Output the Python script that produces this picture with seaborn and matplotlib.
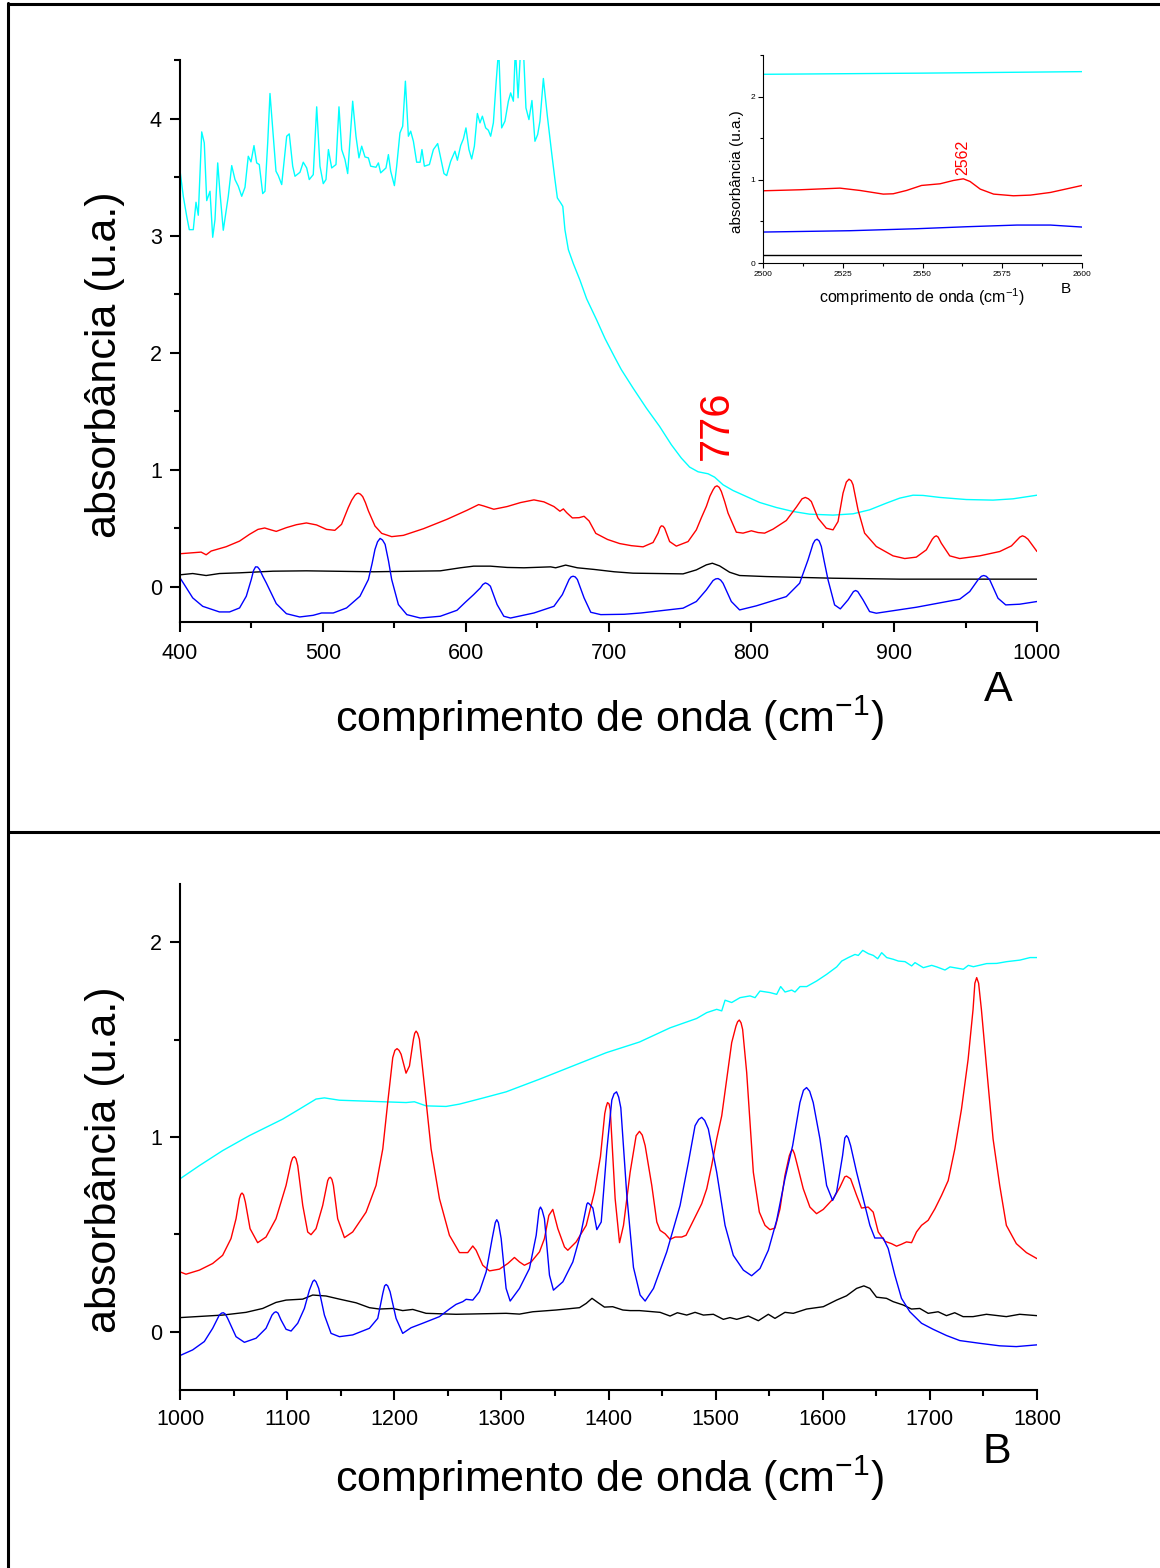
import numpy as np
import pandas as pd
import matplotlib
matplotlib.use("Agg")
import matplotlib.pyplot as plt
from matplotlib.ticker import MultipleLocator
from matplotlib.lines import Line2D
import seaborn as sns

# ---------------- Painel A : 400-1000 cm-1 ----------------
a_ciano_x = [400, 402.3, 404.7, 406.5, 409.3, 411.2, 412.8, 415.2, 417.0, 418.7, 421.0, 422.9, 424.5,
             426.4, 428.0, 430.3, 433.8, 436.2, 438.5, 440.8, 443.2, 445.5, 447.8, 449.7, 451.8, 453.7,
             455.5, 457.9, 459.5, 461.4, 463.0, 465.3, 467.2, 468.8, 471.2, 474.7, 476.5, 478.9, 480.5,
             484.0, 486.3, 488.7, 490.5, 493.3, 495.7, 498.0, 500.3, 502.2, 503.9, 506.2, 509.2, 511.3,
             513.2, 515.5, 517.4, 520.9, 523.2, 525.3, 527.2, 529.5, 531.9, 533.5, 537.2, 538.9, 540.5,
             544.2, 545.9, 547.5, 550.1, 551.7, 554.0, 555.9, 557.8, 559.9, 561.5, 563.4, 565.7, 568.1,
             569.4, 571.1, 574.6, 577.4, 580.4, 583.2, 584.8, 586.7, 589.5, 592.5, 594.2, 596.5, 598.4,
             600.2, 602.3, 604.2, 606.1, 608.2, 610.0, 611.7, 614.0, 615.9, 617.5, 619.4, 621.3, 623.1,
             625.2, 627.5, 629.9, 631.5, 633.4, 634.8, 636.7, 638.5, 640.4, 642.2, 644.3, 646.4, 648.5,
             650.4, 652.0, 654.4, 657.2, 660.2, 662.5, 664.2, 666.5, 668.0, 669.5, 671.9, 675.4, 680.0,
             684.7, 691.7, 697.6, 704.6, 709.0, 717.2, 726.5, 735.8, 744.0, 751.0, 756.8, 762.7, 769.7,
             774.3, 780.2, 787.2, 796.5, 805.8, 817.5, 829.2, 840.8, 857.2, 871.2, 882.8, 894.5, 903.9,
             913.2, 920.2, 931.9, 950.5, 969.2, 983.2, 1000]
a_ciano_y = [3.556, 3.336, 3.165, 3.051, 3.051, 3.285, 3.174, 3.886, 3.792, 3.299, 3.379, 2.986, 3.137,
             3.621, 3.365, 3.046, 3.336, 3.598, 3.479, 3.422, 3.336, 3.413, 3.678, 3.630, 3.769, 3.621,
             3.607, 3.359, 3.379, 3.792, 4.214, 3.849, 3.550, 3.513, 3.436, 3.849, 3.869, 3.593, 3.507,
             3.541, 3.627, 3.578, 3.479, 3.521, 4.100, 3.593, 3.444, 3.479, 3.735, 3.578, 3.607, 4.100,
             3.735, 3.650, 3.530, 4.148, 3.849, 3.664, 3.764, 3.672, 3.664, 3.593, 3.584, 3.621, 3.536,
             3.578, 3.692, 3.550, 3.427, 3.593, 3.878, 3.934, 4.319, 3.849, 3.892, 3.806, 3.627, 3.627,
             3.735, 3.593, 3.607, 3.735, 3.786, 3.621, 3.530, 3.513, 3.635, 3.721, 3.644, 3.769, 3.826,
             3.920, 3.735, 3.655, 3.764, 4.043, 3.963, 4.020, 3.920, 3.900, 3.849, 3.963, 4.305, 4.600,
             3.920, 3.977, 4.148, 4.219, 4.148, 4.600, 4.177, 4.600, 4.600, 4.091, 3.991, 4.154, 3.806,
             3.863, 3.977, 4.342, 4.020, 3.707, 3.479, 3.322, 3.280, 3.250, 3.050, 2.880, 2.760, 2.620,
             2.460, 2.280, 2.120, 1.955, 1.855, 1.698, 1.527, 1.370, 1.214, 1.100, 1.023, 0.983, 0.966,
             0.937, 0.872, 0.823, 0.772, 0.721, 0.678, 0.644, 0.621, 0.613, 0.624, 0.658, 0.715, 0.758,
             0.783, 0.781, 0.764, 0.746, 0.741, 0.752, 0.783]

a_vermelho_x = [400, 414.8, 418.3, 421.8, 432.3, 441.7, 448.7, 454.6, 459.3, 463.9, 467.4, 474.5, 481.5,
                488.5, 495.6, 502.6, 508.4, 513.1, 517.8, 520.2, 522.5, 523.7, 524.8, 526.3, 527.9, 529.8,
                531.9, 536.5, 541.2, 548.2, 556.4, 570.5, 586.9, 600.9, 609.1, 612.6, 619.7, 629.0, 638.4,
                647.8, 654.8, 661.8, 666.0, 668.4, 670.7, 674.7, 679.4, 682.9, 686.4, 691.1, 699.3, 707.8,
                716.0, 724.2, 731.2, 734.7, 736.0, 737.0, 738.2, 739.3, 742.8, 747.5, 755.7, 761.5, 765.0,
                768.5, 771.0, 773.2, 774.6, 776.0, 777.5, 779.0, 781.3, 783.7, 789.5, 794.2, 800.0, 804.7,
                809.3, 815.2, 824.5, 831.5, 835.5, 837.8, 840.0, 842.0, 846.7, 852.5, 857.2, 860.7, 864.2,
                866.5, 868.4, 870.0, 871.2, 874.7, 879.3, 887.5, 899.2, 907.4, 915.5, 922.5, 926.7, 928.2,
                929.5, 930.8, 933.0, 938.9, 945.9, 959.9, 973.9, 982.1, 988.0, 989.8, 991.5, 993.7, 1000]
a_vermelho_y = [0.283, 0.297, 0.274, 0.306, 0.343, 0.391, 0.449, 0.491, 0.503, 0.486, 0.474, 0.506, 0.531,
                0.546, 0.529, 0.491, 0.483, 0.534, 0.677, 0.740, 0.783, 0.796, 0.800, 0.792, 0.771, 0.720,
                0.649, 0.520, 0.457, 0.429, 0.440, 0.497, 0.577, 0.654, 0.703, 0.691, 0.663, 0.686, 0.720,
                0.743, 0.726, 0.686, 0.646, 0.666, 0.634, 0.589, 0.591, 0.603, 0.563, 0.457, 0.405, 0.370,
                0.352, 0.342, 0.379, 0.459, 0.505, 0.521, 0.518, 0.501, 0.387, 0.348, 0.387, 0.487, 0.590,
                0.687, 0.775, 0.829, 0.855, 0.863, 0.850, 0.815, 0.730, 0.630, 0.467, 0.459, 0.479, 0.464,
                0.459, 0.493, 0.567, 0.681, 0.752, 0.764, 0.752, 0.729, 0.587, 0.501, 0.487, 0.558, 0.801,
                0.895, 0.920, 0.905, 0.872, 0.658, 0.459, 0.345, 0.265, 0.242, 0.254, 0.316, 0.407, 0.428,
                0.436, 0.425, 0.373, 0.265, 0.242, 0.265, 0.302, 0.350, 0.425, 0.436, 0.428, 0.407, 0.302]

a_preto_x = [400, 408.9, 418.3, 427.6, 441.7, 465.1, 488.5, 535.4, 582.2, 596.3, 605.6, 617.3, 629.0,
             640.8, 659.5, 663.0, 670.0, 678.2, 689.9, 704.0, 717.2, 752.2, 761.5, 768.5, 772.7, 777.8,
             784.8, 791.8, 810.5, 857.2, 903.9, 1000]
a_preto_y = [0.103, 0.114, 0.097, 0.114, 0.120, 0.134, 0.137, 0.129, 0.137, 0.163, 0.177, 0.177, 0.166,
             0.163, 0.171, 0.163, 0.186, 0.163, 0.149, 0.129, 0.117, 0.111, 0.145, 0.188, 0.202, 0.179,
             0.125, 0.097, 0.088, 0.074, 0.066, 0.066]

a_azul_x = [400, 403.0, 408.9, 415.9, 427.6, 434.7, 441.7, 446.4, 449.9, 451.5, 452.9, 454.3, 455.7, 458.0,
            460.4, 467.4, 474.5, 483.8, 493.2, 499.1, 507.3, 516.6, 526.0, 531.9, 534.5, 536.5, 538.3,
            540.1, 541.8, 543.6, 546.0, 548.2, 552.9, 558.8, 568.2, 582.2, 593.9, 599.8, 605.6, 610.3,
            612.0, 613.8, 615.5, 617.3, 622.0, 626.7, 631.4, 647.8, 661.8, 667.7, 672.4, 673.8, 675.2,
            676.7, 678.2, 682.9, 687.6, 694.6, 711.0, 722.7, 752.2, 761.5, 768.5, 773.2, 775.0, 776.7,
            778.5, 780.2, 786.0, 791.8, 803.5, 824.5, 833.8, 839.7, 843.2, 844.6, 846.0, 847.5, 849.0,
            851.0, 853.7, 858.3, 862.3, 867.7, 871.5, 873.0, 874.5, 878.2, 882.8, 887.5, 915.5, 945.9,
            952.9, 958.7, 961.0, 962.7, 964.5, 966.9, 972.7, 978.1, 987.9, 1000]
a_azul_y = [0.077, 0.020, -0.094, -0.166, -0.214, -0.214, -0.180, -0.080, 0.063, 0.140, 0.171, 0.170,
            0.149, 0.090, 0.034, -0.143, -0.229, -0.257, -0.243, -0.223, -0.223, -0.180, -0.080, 0.063,
            0.200, 0.320, 0.385, 0.414, 0.400, 0.363, 0.220, 0.063, -0.151, -0.237, -0.266, -0.251,
            -0.200, -0.131, -0.066, -0.009, 0.020, 0.034, 0.025, 0.006, -0.151, -0.251, -0.266, -0.223,
            -0.166, -0.066, 0.063, 0.085, 0.091, 0.085, 0.063, -0.094, -0.217, -0.237, -0.234, -0.223,
            -0.182, -0.125, -0.026, 0.054, 0.068, 0.071, 0.058, 0.031, -0.125, -0.197, -0.162, -0.083,
            0.031, 0.231, 0.368, 0.398, 0.407, 0.392, 0.345, 0.220, 0.060, -0.154, -0.188, -0.111,
            -0.040, -0.031, -0.040, -0.111, -0.211, -0.225, -0.174, -0.105, -0.040, 0.060, 0.090,
            0.097, 0.090, 0.060, -0.097, -0.154, -0.148, -0.125]

# ---------------- Detalhe : 2500-2600 cm-1 ----------------
d_ciano_x = [2500, 2550, 2600]
d_ciano_y = [2.268, 2.282, 2.300]
d_vermelho_x = [2500, 2511.5, 2524.1, 2530.4, 2537.7, 2540.8, 2545.0, 2549.7, 2555.5, 2559.7, 2562.8,
                2564.9, 2568.1, 2572.3, 2578.5, 2583.8, 2590.1, 2595.3, 2600]
d_vermelho_y = [0.868, 0.880, 0.900, 0.872, 0.828, 0.832, 0.872, 0.932, 0.952, 0.992, 1.012, 0.980,
                0.888, 0.828, 0.808, 0.816, 0.848, 0.892, 0.932]
d_azul_x = [2500, 2527.2, 2548.2, 2563.9, 2579.6, 2590.1, 2600]
d_azul_y = [0.372, 0.388, 0.412, 0.436, 0.456, 0.456, 0.432]
d_preto_x = [2500, 2600]
d_preto_y = [0.092, 0.092]

# ---------------- Painel B : 1000-1800 cm-1 ----------------
b_ciano_x = [1000, 1018.1, 1039.8, 1064.7, 1095.9, 1111.4, 1127.0, 1134.8, 1148.8, 1179.9, 1211.0, 1218.8,
             1229.7, 1248.4, 1260.9, 1282.6, 1304.4, 1335.6, 1366.7, 1397.8, 1428.9, 1457.5, 1482.3,
             1491.7, 1501.0, 1505.7, 1508.8, 1515.0, 1522.8, 1532.1, 1536.8, 1541.4, 1550.8, 1557.0,
             1560.7, 1564.8, 1571.0, 1574.1, 1578.8, 1585.0, 1594.4, 1603.7, 1613.0, 1617.7, 1623.9,
             1630.1, 1633.2, 1637.3, 1642.6, 1647.2, 1651.3, 1655.0, 1659.7, 1665.9, 1670.6, 1676.8,
             1683.0, 1686.1, 1693.9, 1701.7, 1706.4, 1714.1, 1718.8, 1731.2, 1735.9, 1740.6, 1753.0,
             1762.4, 1771.7, 1784.1, 1793.5, 1800]
b_ciano_y = [0.785, 0.853, 0.930, 1.007, 1.092, 1.143, 1.195, 1.201, 1.189, 1.183, 1.177, 1.181,
             1.160, 1.157, 1.169, 1.200, 1.232, 1.297, 1.365, 1.433, 1.488, 1.561, 1.609,
             1.639, 1.656, 1.648, 1.703, 1.691, 1.716, 1.725, 1.716, 1.750, 1.742, 1.733,
             1.773, 1.745, 1.755, 1.745, 1.773, 1.773, 1.802, 1.836, 1.874, 1.904, 1.922,
             1.938, 1.933, 1.959, 1.942, 1.933, 1.916, 1.947, 1.922, 1.913, 1.904, 1.901,
             1.879, 1.896, 1.870, 1.882, 1.874, 1.858, 1.874, 1.862, 1.882, 1.875, 1.891,
             1.892, 1.901, 1.909, 1.922, 1.922]

b_vermelho_x = [1000, 1005.6, 1018.1, 1030.5, 1039.8, 1047.6, 1052.3, 1055.4, 1056.7, 1057.9, 1059.3,
                1061.0, 1065.4, 1072.5, 1080.3, 1089.6, 1099.0, 1103.7, 1105.2, 1106.8, 1108.3, 1109.9,
                1114.6, 1119.2, 1122.3, 1127.0, 1133.2, 1137.9, 1139.2, 1140.4, 1141.8, 1143.2, 1147.2,
                1153.5, 1161.2, 1173.7, 1183.0, 1189.3, 1193.9, 1198.6, 1200.6, 1202.6, 1204.5, 1206.4,
                1211.0, 1214.2, 1217.9, 1219.1, 1220.4, 1221.8, 1223.5, 1228.2, 1234.4, 1242.2, 1251.5,
                1260.9, 1268.6, 1273.3, 1276.4, 1282.6, 1288.9, 1298.2, 1306.0, 1312.2, 1316.9, 1321.5,
                1327.8, 1335.6, 1340.2, 1344.3, 1348.0, 1352.7, 1358.9, 1362.0, 1369.8, 1379.2, 1386.9,
                1392.5, 1396.5, 1397.8, 1399.1, 1400.5, 1401.6, 1406.2, 1410.3, 1414.0, 1420.2, 1425.8,
                1428.9, 1431.5, 1434.2, 1440.4, 1445.1, 1448.2, 1452.8, 1457.5, 1462.2, 1468.4, 1472.4,
                1479.3, 1487.0, 1491.7, 1496.3, 1501.0, 1505.7, 1510.3, 1515.0, 1519.0, 1520.5, 1522.1,
                1523.7, 1525.2, 1529.0, 1535.2, 1540.8, 1546.1, 1550.7, 1555.4, 1560.1, 1564.7, 1568.8,
                1570.3, 1571.9, 1573.5, 1575.6, 1581.8, 1588.0, 1594.2, 1600.5, 1609.8, 1616.0, 1620.5,
                1622.2, 1626.0, 1631.6, 1636.2, 1642.4, 1647.1, 1651.8, 1658.0, 1664.2, 1668.9, 1673.5,
                1678.2, 1682.9, 1687.5, 1692.2, 1698.4, 1704.7, 1710.9, 1717.1, 1723.3, 1729.5, 1735.7,
                1740.3, 1742.0, 1743.7, 1745.5, 1748.1, 1752.8, 1759.0, 1765.2, 1771.4, 1780.7, 1790.1,
                1800]
b_vermelho_y = [0.307, 0.295, 0.316, 0.350, 0.392, 0.478, 0.580, 0.683, 0.705, 0.712, 0.703,
                0.666, 0.529, 0.457, 0.486, 0.580, 0.751, 0.870, 0.893, 0.899, 0.888, 0.853,
                0.648, 0.512, 0.498, 0.529, 0.648, 0.776, 0.790, 0.793, 0.782, 0.751, 0.580,
                0.483, 0.512, 0.614, 0.751, 0.939, 1.177, 1.408, 1.445, 1.454, 1.445, 1.425,
                1.328, 1.365, 1.502, 1.533, 1.544, 1.533, 1.502, 1.263, 0.939, 0.683, 0.495,
                0.406, 0.406, 0.440, 0.418, 0.341, 0.312, 0.321, 0.350, 0.381, 0.358, 0.341,
                0.358, 0.410, 0.478, 0.597, 0.628, 0.529, 0.435, 0.418, 0.461, 0.546, 0.717,
                0.900, 1.120, 1.155, 1.177, 1.170, 1.143, 0.683, 0.457, 0.546, 0.819, 1.007,
                1.029, 1.010, 0.956, 0.751, 0.563, 0.520, 0.503, 0.474, 0.486, 0.486, 0.495,
                0.572, 0.657, 0.734, 0.853, 0.990, 1.109, 1.297, 1.485, 1.570, 1.592, 1.601,
                1.587, 1.553, 1.331, 0.819, 0.614, 0.546, 0.524, 0.532, 0.631, 0.802, 0.904,
                0.925, 0.935, 0.915, 0.870, 0.734, 0.640, 0.606, 0.628, 0.683, 0.742, 0.795,
                0.799, 0.785, 0.700, 0.635, 0.640, 0.614, 0.512, 0.464, 0.452, 0.439, 0.449,
                0.461, 0.457, 0.512, 0.546, 0.572, 0.631, 0.700, 0.776, 0.939, 1.143, 1.399,
                1.655, 1.790, 1.819, 1.790, 1.655, 1.365, 0.990, 0.751, 0.546, 0.452, 0.406,
                0.375]

b_preto_x = [1000, 1039.8, 1061.6, 1077.2, 1089.6, 1099.0, 1114.6, 1123.9, 1136.3, 1148.8, 1164.4, 1176.8,
             1186.1, 1198.6, 1207.9, 1217.3, 1229.7, 1257.7, 1304.4, 1316.9, 1329.3, 1351.1, 1372.9,
             1379.2, 1384.6, 1389.9, 1396.2, 1403.9, 1413.4, 1420.2, 1428.9, 1448.2, 1457.5, 1464.3,
             1473.0, 1480.8, 1488.6, 1497.9, 1507.2, 1513.4, 1519.7, 1530.5, 1539.9, 1549.2, 1555.4,
             1564.7, 1572.5, 1584.9, 1600.5, 1612.9, 1622.2, 1631.6, 1638.4, 1644.0, 1650.2, 1659.5,
             1665.7, 1675.0, 1682.8, 1690.6, 1698.4, 1707.7, 1715.5, 1723.2, 1731.0, 1740.3, 1752.8,
             1771.4, 1783.8, 1800]
b_preto_y = [0.072, 0.085, 0.099, 0.119, 0.150, 0.162, 0.167, 0.188, 0.183, 0.167, 0.148, 0.123,
             0.116, 0.119, 0.108, 0.114, 0.094, 0.089, 0.094, 0.090, 0.102, 0.111, 0.123,
             0.145, 0.171, 0.150, 0.126, 0.128, 0.111, 0.108, 0.108, 0.099, 0.080, 0.097,
             0.085, 0.099, 0.085, 0.089, 0.063, 0.072, 0.063, 0.080, 0.056, 0.089, 0.068,
             0.099, 0.094, 0.116, 0.128, 0.162, 0.184, 0.222, 0.235, 0.222, 0.177, 0.171,
             0.154, 0.137, 0.116, 0.119, 0.094, 0.102, 0.082, 0.097, 0.077, 0.077, 0.089,
             0.077, 0.089, 0.082]

b_azul_x = [1000, 1011.8, 1022.7, 1030.5, 1036.7, 1038.8, 1040.5, 1042.3, 1044.5, 1052.3, 1060.1, 1071.0,
            1080.3, 1085.9, 1088.0, 1089.6, 1091.5, 1094.3, 1099.0, 1103.7, 1109.9, 1116.1, 1120.8,
            1124.0, 1125.4, 1127.0, 1129.5, 1134.8, 1141.0, 1148.8, 1161.2, 1176.8, 1184.6, 1189.3,
            1191.0, 1192.4, 1193.9, 1196.1, 1201.7, 1207.9, 1215.7, 1226.6, 1242.2, 1251.5, 1257.7,
            1264.0, 1267.1, 1273.3, 1279.5, 1285.8, 1291.4, 1294.3, 1295.7, 1297.2, 1299.8, 1304.4,
            1308.2, 1316.9, 1326.2, 1332.5, 1335.2, 1336.5, 1338.0, 1340.2, 1344.9, 1348.6, 1357.4,
            1366.7, 1374.5, 1379.8, 1380.7, 1382.3, 1385.4, 1389.1, 1393.2, 1398.4, 1403.1, 1405.2,
            1407.5, 1409.5, 1411.5, 1417.1, 1423.3, 1429.5, 1434.2, 1442.0, 1454.4, 1466.8, 1474.6,
            1480.8, 1484.2, 1487.0, 1489.8, 1493.2, 1501.0, 1508.8, 1516.5, 1525.9, 1533.6, 1541.4,
            1549.2, 1557.0, 1564.7, 1571.9, 1578.7, 1582.0, 1584.9, 1587.8, 1591.1, 1597.4, 1603.6,
            1609.2, 1612.9, 1618.5, 1620.6, 1622.2, 1623.8, 1626.0, 1631.6, 1637.8, 1644.0, 1648.6,
            1656.4, 1661.1, 1667.3, 1673.5, 1681.3, 1692.2, 1703.0, 1715.5, 1727.9, 1746.5, 1765.2,
            1780.7, 1800]
b_azul_y = [-0.123, -0.094, -0.051, 0.017, 0.085, 0.095, 0.097, 0.090, 0.068, -0.026, -0.055, -0.034,
            0.017, 0.085, 0.098, 0.102, 0.095, 0.060, 0.012, 0.003, 0.043, 0.119, 0.213,
            0.258, 0.265, 0.256, 0.222, 0.085, -0.009, -0.026, -0.017, 0.017, 0.068, 0.196,
            0.235, 0.242, 0.235, 0.205, 0.068, -0.009, 0.020, 0.043, 0.077, 0.116, 0.140,
            0.154, 0.166, 0.162, 0.205, 0.307, 0.478, 0.560, 0.575, 0.560, 0.478, 0.222,
            0.157, 0.222, 0.324, 0.495, 0.625, 0.640, 0.625, 0.580, 0.290, 0.213, 0.256,
            0.358, 0.512, 0.655, 0.662, 0.655, 0.635, 0.524, 0.563, 0.930, 1.190, 1.222,
            1.232, 1.205, 1.150, 0.700, 0.330, 0.188, 0.157, 0.222, 0.410, 0.648, 0.870,
            1.058, 1.090, 1.101, 1.085, 1.041, 0.819, 0.546, 0.392, 0.316, 0.287, 0.324,
            0.418, 0.572, 0.785, 0.956, 1.177, 1.240, 1.254, 1.235, 1.177, 0.990, 0.751,
            0.674, 0.717, 0.904, 0.995, 1.007, 0.995, 0.956, 0.819, 0.683, 0.546, 0.481,
            0.481, 0.427, 0.290, 0.171, 0.102, 0.043, 0.012, -0.020, -0.046, -0.060, -0.073,
            -0.077, -0.068]

CIANO, VERMELHO, AZUL, PRETO = "#00FFFF", "#FF0000", "#0000FF", "#000000"

sns.set_theme(style="ticks")
plt.rcParams["font.family"] = ["Liberation Sans", "DejaVu Sans"]
plt.rcParams["text.color"] = "black"
plt.rcParams["mathtext.fontset"] = "custom"
plt.rcParams["mathtext.rm"] = "Liberation Sans"
plt.rcParams["mathtext.it"] = "Liberation Sans:italic"
plt.rcParams["mathtext.default"] = "regular"

W, H = 1160, 1568
fig = plt.figure(figsize=(W / 100, H / 100), dpi=100)
fig.patch.set_facecolor("white")


def caixa(l, t, r, b):
    return [l / W, 1 - b / H, (r - l) / W, (b - t) / H]


def curva(ax, x, y, cor, lw=1.0):
    df = pd.DataFrame({"numero_onda": x, "absorbancia": y})
    sns.lineplot(data=df, x="numero_onda", y="absorbancia", ax=ax, color=cor,
                 lw=lw, estimator=None, sort=False)


def eixos(ax, xlim, ylim, xmaj, xmin, ymaj, ymin, fs, lmaj, lmin, lw, padx, pady):
    ax.set_xlim(*xlim)
    ax.set_ylim(*ylim)
    ax.xaxis.set_major_locator(MultipleLocator(xmaj))
    ax.xaxis.set_minor_locator(MultipleLocator(xmin))
    ax.yaxis.set_major_locator(MultipleLocator(ymaj))
    ax.yaxis.set_minor_locator(MultipleLocator(ymin))
    for s in ("top", "right"):
        ax.spines[s].set_visible(False)
    for s in ("left", "bottom"):
        ax.spines[s].set_linewidth(lw)
        ax.spines[s].set_color("black")
    ax.tick_params(which="major", direction="out", length=lmaj, width=lw,
                   labelsize=fs, colors="black")
    ax.tick_params(which="minor", direction="out", length=lmin, width=lw, colors="black")
    ax.tick_params(axis="x", which="major", pad=padx)
    ax.tick_params(axis="y", which="major", pad=pady)
    ax.set_xlabel("")
    ax.set_ylabel("")
    ax.set_facecolor("none")
    ax.grid(False)


# Painel A
ax_a = fig.add_axes(caixa(180, 60, 1037, 622))
curva(ax_a, a_ciano_x, a_ciano_y, CIANO)
curva(ax_a, a_vermelho_x, a_vermelho_y, VERMELHO)
curva(ax_a, a_preto_x, a_preto_y, PRETO)
curva(ax_a, a_azul_x, a_azul_y, AZUL)
eixos(ax_a, (400, 1000), (-0.3, 4.5), 100, 50, 1, 0.5, 15.5, 7.5, 4.5, 1.5, 7.5, 5.5)

# Painel B
ax_b = fig.add_axes(caixa(180, 884, 1037, 1390))
curva(ax_b, b_ciano_x, b_ciano_y, CIANO)
curva(ax_b, b_vermelho_x, b_vermelho_y, VERMELHO)
curva(ax_b, b_preto_x, b_preto_y, PRETO)
curva(ax_b, b_azul_x, b_azul_y, AZUL)
eixos(ax_b, (1000, 1800), (-0.3, 2.3), 100, 50, 1, 0.5, 15.5, 7.5, 4.5, 1.5, 6.5, 5.5)

# Detalhe 2500-2600 cm-1
ax_d = fig.add_axes(caixa(763, 55, 1082, 263))
curva(ax_d, d_ciano_x, d_ciano_y, CIANO, 1.0)
curva(ax_d, d_vermelho_x, d_vermelho_y, VERMELHO, 1.0)
curva(ax_d, d_azul_x, d_azul_y, AZUL, 1.0)
curva(ax_d, d_preto_x, d_preto_y, PRETO, 1.0)
eixos(ax_d, (2500, 2600), (0, 2.5), 25, 12.5, 1, 0.5, 6, 3.5, 2.0, 0.8, 2, 2)

# Rotulos
rot = "absorbância (u.a.)"
xrot = "comprimento de onda (cm$^{-1}$)"
fig.text(105 / W, 1 - 365 / H, rot, rotation=90, ha="center", va="center", fontsize=31)
fig.text(609 / W, 1 - 718 / H, xrot, ha="center", va="center", fontsize=31)
fig.text(998 / W, 1 - 690 / H, "A", ha="center", va="center", fontsize=31)
fig.text(717 / W, 1 - 425 / H, "776", rotation=90, ha="center", va="center",
         fontsize=30, color=VERMELHO)

fig.text(105 / W, 1 - 1160 / H, rot, rotation=90, ha="center", va="center", fontsize=31)
fig.text(609 / W, 1 - 1478 / H, xrot, ha="center", va="center", fontsize=31)
fig.text(997 / W, 1 - 1452 / H, "B", ha="center", va="center", fontsize=31)

fig.text(737 / W, 1 - 172 / H, rot, rotation=90, ha="center", va="center", fontsize=11)
fig.text(922 / W, 1 - 297 / H, xrot, ha="center", va="center", fontsize=11.5)
fig.text(1066 / W, 1 - 289 / H, "B", ha="center", va="center", fontsize=11)
fig.text(963 / W, 1 - 157 / H, "2562", rotation=90, ha="center", va="center",
         fontsize=11.5, color=VERMELHO)

# Moldura
for xs, ys in (([8, 8], [3, H]), ([8, W], [3.5, 3.5]), ([8, W], [832, 832])):
    fig.add_artist(Line2D([x / W for x in xs], [1 - y / H for y in ys],
                          transform=fig.transFigure, color="black", lw=2.2))

fig.savefig("out.png", dpi=100, facecolor="white")
